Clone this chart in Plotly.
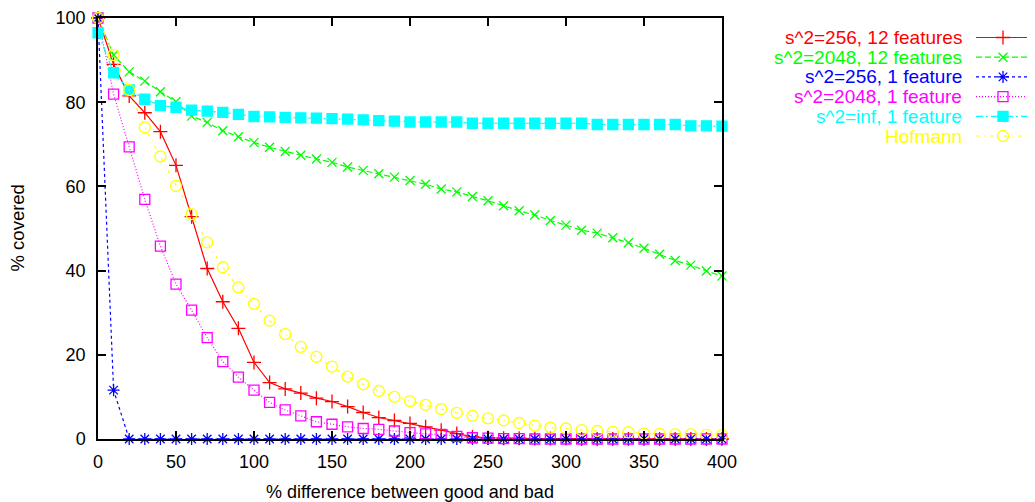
import plotly.graph_objects as go

# the page body adds an 8px offset, so the figure is 8px smaller and every
# reference pixel position is shifted by 8
OFF = 8
W, H = 1035 - OFF, 502 - OFF
PL, PR, PT, PB = 98 - OFF, 722 - OFF, 18 - OFF, 439 - OFF

x_vals = list(range(0, 401, 10))

red_256_12 = [100, 89, 81.5, 77.5, 73, 65, 52.8, 40.5, 32.6, 26.3, 18.2, 13.4, 11.9, 10.9, 9.7, 8.9,
              7.7, 6.3, 5.1, 4.4, 3.7, 2.9, 2.1, 1.3, 0.5, 0.3, 0.2, 0.2, 0.1, 0.1, 0.1,
              0, 0, 0, 0, 0, 0, 0, 0, 0, 0]
green_2048_12 = [100, 91.2, 87.2, 85, 82.5, 80.1, 76.7, 75.2, 73.2, 71.8, 70.4, 69.3, 68.3, 67.4, 66.5,
                 65.7, 64.6, 63.8, 63.0, 62.2, 61.4, 60.5, 59.4, 58.7, 57.6, 56.6, 55.4, 54.2, 53.2,
                 51.9, 50.8, 49.6, 48.9, 47.8, 46.6, 45.3, 43.9, 42.4, 41.3, 39.9, 38.7]
blue_256_1 = [100, 11.6] + [0] * 39
magenta_2048_1 = [100, 81.9, 69.4, 56.9, 45.8, 36.8, 30.6, 24.1, 18.4, 14.7, 11.6, 8.7, 6.9, 5.5, 4.1,
                  3.5, 2.9, 2.5, 2.3, 1.9, 1.5, 1.2, 1.1, 0.6, 0.3, 0.2, 0.1, 0.1] + [0] * 13
cyan_inf_1 = [96.5, 87, 82.9, 80.7, 79.2, 78.8, 78.1, 77.9, 77.6, 77.1, 76.6, 76.5, 76.4, 76.3, 76.2,
              76.1, 76.0, 75.8, 75.6, 75.5, 75.3, 75.3, 75.3, 75.3,
              75.0, 75.0, 75.0, 75.0, 75.0, 75.0, 75.0, 75.0,
              74.7, 74.7, 74.7, 74.7, 74.7, 74.7, 74.4, 74.4, 74.3]
yellow_hofmann = [100, 91.2, 82.9, 74, 67.1, 60.1, 53.4, 46.7, 40.8, 36.0, 32.1, 28.1, 24.9, 21.9, 19.5,
                  17.2, 14.8, 13.0, 11.4, 10.0, 9.0, 8.1, 7.1, 6.2, 5.5, 4.9, 4.4, 3.8, 3.2, 2.7,
                  2.5, 2.1, 1.9, 1.7, 1.6, 1.3, 1.2, 1.1, 1.1, 1.0, 0.9]

series_names = ["s^2=256, 12 features", "s^2=2048, 12 features", "s^2=256, 1 feature",
                "s^2=2048, 1 feature", "s^2=inf, 1 feature", "Hofmann"]
series_values = [red_256_12, green_2048_12, blue_256_1, magenta_2048_1, cyan_inf_1, yellow_hofmann]

x_ticks = [0, 50, 100, 150, 200, 250, 300, 350, 400]
y_ticks = [0, 20, 40, 60, 80, 100]

styles = [
    dict(color="#ff0000", dash="solid", symbol="cross-thin-open", size=10),
    dict(color="#00ff00", dash="6px,3px", symbol="x-thin-open", size=9),
    dict(color="#0000ff", dash="3px,3px", symbol="asterisk-open", size=10),
    dict(color="#ff00ff", dash="1px,2px", symbol="square-open", size=10),
    dict(color="#00ffff", dash="7px,3px,2px,3px", symbol="square", size=10),
    dict(color="#ffff00", dash="3px,5px,1px,5px", symbol="circle-open", size=11),
]

FONT = "Liberation Sans, Arial, Helvetica, sans-serif"
FS = 18
FS_LEG = 19

fig = go.Figure()

for name, vals, st in zip(series_names, series_values, styles):
    fig.add_trace(go.Scatter(
        x=x_vals, y=vals, mode="lines+markers", name=name, showlegend=False,
        line=dict(color=st["color"], width=1.2, dash=st["dash"]),
        marker=dict(symbol=st["symbol"], size=st["size"], color=st["color"],
                    line=dict(color=st["color"], width=1.3)),
        cliponaxis=False, xaxis="x", yaxis="y",
    ))

# manual gnuplot-style legend (text left, sample right)
row0, row_dy = 37.5 - OFF, 19.7
for i, (name, st) in enumerate(zip(series_names, styles)):
    yy = row0 + i * row_dy
    fig.add_trace(go.Scatter(
        x=[976 - OFF, 1027 - OFF], y=[yy, yy], mode="lines", showlegend=False, hoverinfo="skip",
        line=dict(color=st["color"], width=1.2, dash=st["dash"]),
        xaxis="x2", yaxis="y2", cliponaxis=False,
    ))
    fig.add_trace(go.Scatter(
        x=[1003 - OFF], y=[yy], mode="markers", showlegend=False, hoverinfo="skip",
        marker=dict(symbol=st["symbol"], size=st["size"], color=st["color"],
                    line=dict(color=st["color"], width=1.3)),
        xaxis="x2", yaxis="y2", cliponaxis=False,
    ))
    fig.add_annotation(x=963 - OFF, y=yy, xref="x2", yref="y2", text=name, showarrow=False,
                       xanchor="right", yanchor="middle", borderpad=0,
                       font=dict(family=FONT, size=FS_LEG, color=st["color"]))

# axis titles
fig.add_annotation(x=(PL + PR) / 2, y=492 - OFF, xref="x2", yref="y2",
                   text="% difference between good and bad",
                   showarrow=False, xanchor="center", yanchor="middle",
                   font=dict(family=FONT, size=FS, color="black"))
fig.add_annotation(x=17 - OFF, y=(PT + PB) / 2, xref="x2", yref="y2", text="% covered", textangle=-90,
                   showarrow=False, xanchor="center", yanchor="middle",
                   font=dict(family=FONT, size=18.5, color="black"))

fig.update_layout(
    width=W, height=H,
    margin=dict(l=0, r=0, t=0, b=0, pad=0, autoexpand=False),
    paper_bgcolor="white", plot_bgcolor="rgba(0,0,0,0)",
    font=dict(family=FONT, size=FS, color="black"),
    xaxis=dict(domain=[PL / W, PR / W], range=[0, 400], tickvals=x_ticks,
               showgrid=False, zeroline=False, showline=True, linecolor="black", linewidth=1.5,
               mirror="ticks", ticks="inside", ticklen=8, tickwidth=1.5, tickcolor="black",
               ticklabelstandoff=6,
               tickfont=dict(family=FONT, size=FS, color="black"), anchor="y", automargin=False),
    yaxis=dict(domain=[1 - PB / H, 1 - PT / H], range=[0, 100], tickvals=y_ticks,
               showgrid=False, zeroline=False, showline=True, linecolor="black", linewidth=1.5,
               mirror="ticks", ticks="inside", ticklen=8, tickwidth=1.5, tickcolor="black",
               ticklabelstandoff=7,
               tickfont=dict(family=FONT, size=FS, color="black"), anchor="x", automargin=False),
    xaxis2=dict(domain=[0, 1], range=[0, W], visible=False, anchor="y2", fixedrange=True,
                automargin=False),
    yaxis2=dict(domain=[0, 1], range=[H, 0], visible=False, anchor="x2", fixedrange=True,
                automargin=False),
    showlegend=False,
)

fig.write_html("out.html")
